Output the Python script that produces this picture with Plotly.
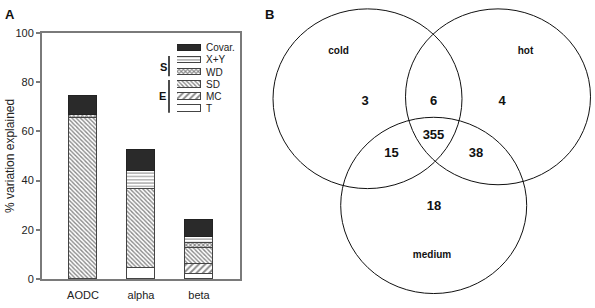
import plotly.graph_objects as go

W, H = 595, 308

# ---------------- Panel A data ----------------
groups = ["AODC", "alpha", "beta"]
components = ["T", "MC", "SD", "WD", "X+Y", "Covar."]
T_vals = [0, 4.4, 2.2]
MC_vals = [0, 0, 4.0]
SD_vals = [65.5, 32.0, 6.6]
WD_vals = [1.2, 0, 2.0]
XY_vals = [0, 7.5, 2.2]
Covar_vals = [7.8, 8.7, 6.8]
y_ticks = [0, 20, 40, 60, 80, 100]
series = [T_vals, MC_vals, SD_vals, WD_vals, XY_vals, Covar_vals]

# ---------------- Panel B data ----------------
venn_sets = ["cold", "hot", "medium"]
venn_regions = ["cold only", "cold & hot", "hot only", "all three",
                "cold & medium", "hot & medium", "medium only"]
venn_counts = [3, 6, 4, 355, 15, 38, 18]

# ---------------- layout helpers (pixel positions) ----------------
def fx(px):
    return px / W

def fy(py):
    return 1 - py / H

FONT = "Arial, Liberation Sans, sans-serif"
TXT = "#222222"
AX = "#7a7a7a"

styles = {
    "T": dict(color="white", line=dict(color="#444", width=1)),
    "MC": dict(color="white", line=dict(color="#444", width=1),
               pattern=dict(shape="/", fgcolor="#111", bgcolor="white", size=4.5, solidity=0.4)),
    "SD": dict(color="white", line=dict(color="#444", width=1),
               pattern=dict(shape="\\", fgcolor="#111", bgcolor="white", size=3, solidity=0.45)),
    "WD": dict(color="white", line=dict(color="#444", width=1),
               pattern=dict(shape="x", fgcolor="#111", bgcolor="white", size=3, solidity=0.6)),
    "X+Y": dict(color="white", line=dict(color="#444", width=1),
                pattern=dict(shape="-", fgcolor="#333", bgcolor="white", size=3.3, solidity=0.35)),
    "Covar.": dict(color="#2a2a2a", line=dict(color="#222", width=1)),
}

fig = go.Figure()

# stacked bars
for comp, vals in zip(components, series):
    fig.add_trace(go.Bar(x=groups, y=vals, name=comp, width=0.48,
                         marker=styles[comp], showlegend=False,
                         xaxis="x", yaxis="y"))

# custom legend swatches (inset axes)
for comp in components:
    fig.add_trace(go.Bar(x=[1], y=[comp], orientation="h", width=0.52,
                         marker=styles[comp], showlegend=False,
                         xaxis="x3", yaxis="y3"))

# Venn diagram text
venn_count_pos_x = [365, 433.5, 502, 433.5, 391.5, 476, 434]
venn_count_pos_y = [100, 99.5, 100, 135.5, 154, 153.5, 208.5]
fig.add_trace(go.Scatter(x=venn_count_pos_x, y=venn_count_pos_y,
                         text=[str(c) for c in venn_counts], mode="text",
                         textfont=dict(family=FONT, size=13, color="#111", weight="bold"),
                         showlegend=False, hoverinfo="skip", xaxis="x2", yaxis="y2"))
venn_label_pos_x = [338.5, 525.5, 432]
venn_label_pos_y = [47, 47.5, 259.5]
fig.add_trace(go.Scatter(x=venn_label_pos_x, y=venn_label_pos_y,
                         text=venn_sets, mode="text",
                         textfont=dict(family=FONT, size=10, color="#111", weight="bold"),
                         showlegend=False, hoverinfo="skip", xaxis="x2", yaxis="y2"))

circles = [(367.5, 96.5, 94.5, 93.5), (498, 94.5, 92.5, 91.5), (433.7, 207.5, 93, 91.7)]
shapes = []
for cx, cy, rx, ry in circles:
    shapes.append(dict(type="circle", xref="x2", yref="y2",
                       x0=cx - rx, x1=cx + rx, y0=cy - ry, y1=cy + ry,
                       line=dict(color="#111", width=1)))

# S / E brackets in legend
shapes.append(dict(type="line", xref="paper", yref="paper",
                   x0=fx(169), x1=fx(169), y0=fy(52), y1=fy(73),
                   line=dict(color="#111", width=1.5)))
shapes.append(dict(type="line", xref="paper", yref="paper",
                   x0=fx(169), x1=fx(169), y0=fy(77), y1=fy(111),
                   line=dict(color="#111", width=1.5)))

annotations = [
    dict(text="<b>A</b>", x=fx(3), y=fy(9), xref="paper", yref="paper",
         xanchor="left", yanchor="middle", showarrow=False,
         font=dict(family=FONT, size=13, color="#111")),
    dict(text="<b>B</b>", x=fx(263), y=fy(9), xref="paper", yref="paper",
         xanchor="left", yanchor="middle", showarrow=False,
         font=dict(family=FONT, size=13, color="#111")),
    dict(text="<b>S</b>", x=fx(163), y=fy(63), xref="paper", yref="paper",
         xanchor="center", yanchor="middle", showarrow=False,
         font=dict(family=FONT, size=11, color="#111")),
    dict(text="<b>E</b>", x=fx(162), y=fy(94), xref="paper", yref="paper",
         xanchor="center", yanchor="middle", showarrow=False,
         font=dict(family=FONT, size=11, color="#111")),
    dict(text="% variation explained", x=fx(10), y=fy(156), xref="paper", yref="paper",
         xanchor="center", yanchor="middle", showarrow=False, textangle=-90,
         font=dict(family=FONT, size=12, color=TXT)),
]

fig.update_layout(
    width=W, height=H,
    margin=dict(l=0, r=0, t=0, b=0),
    paper_bgcolor="white", plot_bgcolor="rgba(0,0,0,0)",
    barmode="stack", bargap=0,
    font=dict(family=FONT, color=TXT),
    shapes=shapes, annotations=annotations,
    xaxis=dict(domain=[fx(42), fx(240)], range=[-0.707, 2.707],
               showline=True, mirror=True, linecolor=AX, linewidth=2,
               ticks="", showgrid=False, zeroline=False, ticklabelstandoff=5,
               tickfont=dict(size=11, color=TXT), fixedrange=True),
    yaxis=dict(domain=[fy(284), fy(28)], range=[0, 100], tickvals=y_ticks,
               showline=True, mirror=True, linecolor=AX, linewidth=2,
               ticks="outside", ticklen=4, tickcolor=AX, tickwidth=1.5,
               showgrid=False, zeroline=False,
               tickfont=dict(size=11, color=TXT), fixedrange=True),
    xaxis2=dict(domain=[fx(245), 1], range=[245, 595], visible=False, anchor="y2"),
    yaxis2=dict(domain=[0, 1], range=[308, 0], visible=False, anchor="x2"),
    xaxis3=dict(domain=[fx(177), fx(201)], range=[0, 1], visible=False, anchor="y3"),
    yaxis3=dict(domain=[fy(112.8), fy(37.2)], range=[-0.5, 5.5], anchor="x3",
                side="right", type="category", categoryorder="array",
                categoryarray=components, showgrid=False, showline=False,
                zeroline=False, ticks="", ticklabelstandoff=4,
                tickfont=dict(size=10, color=TXT)),
)

fig.write_html("out.html", config={"displayModeBar": False},
               post_script="document.body.style.margin='0';document.body.style.overflow='hidden';")
